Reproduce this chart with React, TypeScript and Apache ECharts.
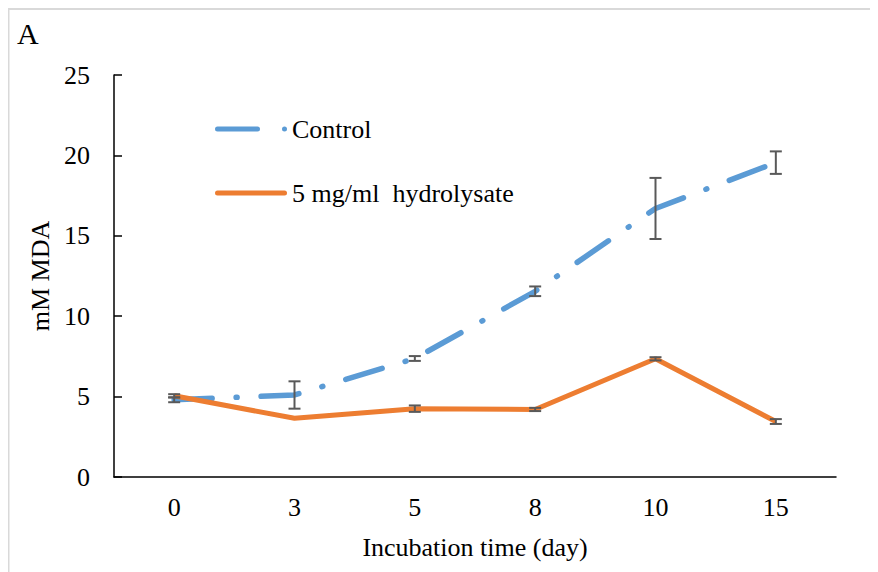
import React, { useEffect, useRef } from "react";
import * as echarts from "echarts";

// Incubation days (category axis)
const days = ["0", "3", "5", "8", "10", "15"];

// MDA concentration, mM
const controlMean = [4.8, 5.1, 7.37, 11.55, 16.7, 19.55];
const controlErr = [0.15, 0.85, 0.15, 0.3, 1.9, 0.7];

const hydrolysateMean = [5.05, 3.65, 4.25, 4.2, 7.35, 3.45];
const hydrolysateErr = [0.1, 0, 0.2, 0.1, 0.1, 0.15];

const seriesNames = ["Control", "5 mg/ml  hydrolysate"];

const FONT = "Liberation Serif";
const FS = 26;
const BLUE = "#5B9BD5";
const ORANGE = "#ED7D31";

// legend keys: a rounded dash followed by a dot, and a solid rounded bar
const DASH_DOT_ICON =
  "path://M2.5,0H42.5A2.5,2.5,0,0,1,42.5,5H2.5A2.5,2.5,0,0,1,2.5,0ZM69.5,0A2.5,2.5,0,0,1,69.5,5A2.5,2.5,0,0,1,69.5,0Z";
const SOLID_ICON = "path://M2.5,0H69.5A2.5,2.5,0,0,1,69.5,5H2.5A2.5,2.5,0,0,1,2.5,0Z";

function errorBarSeries(mean: number[], err: number[]) {
  const data = mean.map((m, i) => [i, m - err[i], m + err[i]]);
  return {
    type: "custom",
    silent: true,
    z: 5,
    data,
    renderItem: (params: any, api: any) => {
      const x = api.value(0);
      const lo = api.coord([x, api.value(1)]);
      const hi = api.coord([x, api.value(2)]);
      if (Math.abs(hi[1] - lo[1]) < 0.5) return null;
      const half = 6;
      const style = { stroke: "#595959", lineWidth: 2 };
      return {
        type: "group",
        children: [
          { type: "line", shape: { x1: lo[0], y1: lo[1], x2: hi[0], y2: hi[1] }, style },
          { type: "line", shape: { x1: lo[0] - half, y1: lo[1], x2: lo[0] + half, y2: lo[1] }, style },
          { type: "line", shape: { x1: hi[0] - half, y1: hi[1], x2: hi[0] + half, y2: hi[1] }, style },
        ],
      };
    },
  };
}

export default function App() {
  const ref = useRef<HTMLDivElement>(null);

  useEffect(() => {
    if (!ref.current) return;
    const chart = echarts.init(ref.current, undefined, { renderer: "svg" });
    const txt = { fontFamily: FONT, fontSize: FS, color: "#000" };
    chart.setOption({
      animation: false,
      textStyle: { fontFamily: FONT, color: "#000" },
      graphic: [
        // chart frame (left and top edges; the rest runs off the page)
        { type: "line", shape: { x1: 0.5, y1: 1, x2: 0.5, y2: 600 }, style: { stroke: "#d9d9d9", lineWidth: 2 } },
        { type: "line", shape: { x1: 0, y1: 1, x2: 900, y2: 1 }, style: { stroke: "#d9d9d9", lineWidth: 2 } },
        {
          type: "text",
          left: 9,
          top: 10,
          style: { text: "A", fontFamily: FONT, fontSize: 30, fill: "#000" },
        },
      ],
      grid: { left: 106, top: 67, right: 42, bottom: 95 },
      legend: {
        orient: "vertical",
        left: 207,
        top: 108,
        padding: 0,
        itemWidth: 72,
        itemHeight: 5,
        itemGap: 38,
        data: [
          { name: seriesNames[0], icon: DASH_DOT_ICON },
          { name: seriesNames[1], icon: SOLID_ICON },
        ],
        textStyle: txt,
      },
      xAxis: {
        type: "category",
        data: days,
        boundaryGap: true,
        name: "Incubation time (day)",
        nameLocation: "middle",
        nameGap: 57,
        nameTextStyle: txt,
        axisLine: { lineStyle: { color: "#000", width: 1.5 } },
        axisTick: { inside: true, length: 8, lineStyle: { color: "#000", width: 1.5 } },
        axisLabel: { margin: 17, ...txt },
        splitLine: { show: false },
      },
      yAxis: {
        type: "value",
        min: 0,
        max: 25,
        interval: 5,
        name: "mM MDA",
        nameLocation: "middle",
        nameGap: 57,
        nameTextStyle: txt,
        axisLine: { show: true, lineStyle: { color: "#000", width: 1.5 } },
        axisTick: { show: true, inside: true, length: 8, lineStyle: { color: "#000", width: 1.5 } },
        axisLabel: { margin: 24, ...txt },
        splitLine: { show: false },
      },
      series: [
        {
          name: seriesNames[0],
          type: "line",
          data: controlMean,
          symbol: "none",
          z: 3,
          lineStyle: { color: BLUE, width: 5.5, type: [38, 24, 1, 24], cap: "round" },
          itemStyle: { color: BLUE },
        },
        {
          name: seriesNames[1],
          type: "line",
          data: hydrolysateMean,
          symbol: "none",
          z: 4,
          lineStyle: { color: ORANGE, width: 5 },
          itemStyle: { color: ORANGE },
        },
        errorBarSeries(controlMean, controlErr),
        errorBarSeries(hydrolysateMean, hydrolysateErr),
      ],
    });
    return () => chart.dispose();
  }, []);

  return <div ref={ref} style={{ width: 870, height: 564 }} />;
}
